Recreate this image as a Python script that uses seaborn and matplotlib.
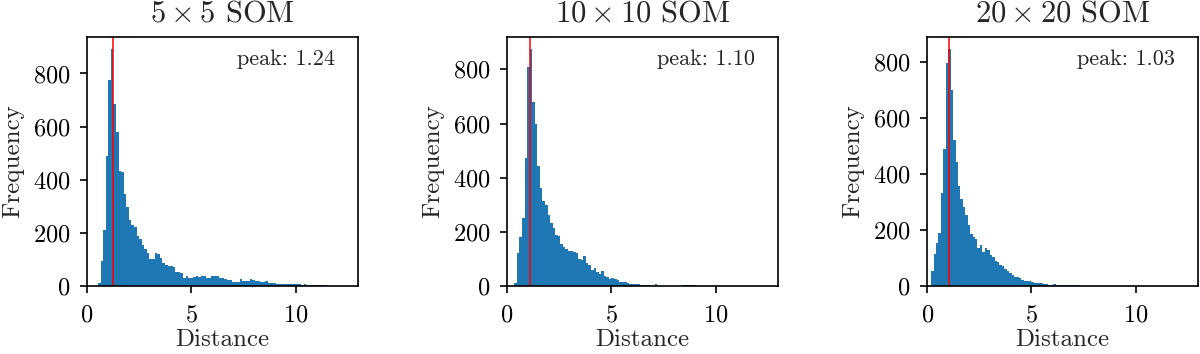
import numpy as np
import pandas as pd
import matplotlib
matplotlib.use("Agg")
import matplotlib.pyplot as plt
import seaborn as sns

# bin counts (100 bins each, zeros at the end trimmed)
titles = [r"$5\times5$ SOM", r"$10\times10$ SOM", r"$20\times20$ SOM"]
peaks = [1.24, 1.10, 1.03]
bin_start = [0.53, 0.35, 0.19]
bin_width = [0.1233, 0.1225, 0.117]

counts_5 = [12, 94, 212, 490, 775, 892, 684, 580, 433, 429,
            345, 296, 248, 229, 222, 190, 178, 154, 139, 124,
            101, 100, 126, 119, 104, 85, 80, 76, 74, 72,
            52, 51, 50, 30, 38, 32, 31, 33, 36, 34,
            38, 36, 31, 31, 38, 37, 36, 31, 30, 26,
            24, 22, 15, 14, 16, 28, 20, 19, 18, 26,
            24, 18, 18, 17, 16, 20, 11, 10, 10, 8,
            7, 8, 7, 7, 6, 7, 6, 6, 6, 5,
            6, 5, 5, 4, 5, 4, 3, 3, 3, 2,
            1, 1, 1, 0, 1]
counts_10 = [10, 121, 180, 252, 471, 810, 875, 680, 597, 443,
             363, 315, 300, 262, 234, 213, 189, 183, 157, 145,
             136, 130, 130, 127, 121, 99, 96, 112, 84, 78,
             60, 65, 53, 44, 57, 37, 32, 25, 28, 27,
             23, 16, 14, 14, 10, 8, 6, 6, 6, 5,
             4, 3, 3, 1, 1, 6, 1, 1, 1, 0,
             1, 1, 1, 0, 0, 1, 5, 4, 5, 3,
             4, 1]
counts_20 = [55, 114, 153, 191, 332, 491, 798, 848, 702, 523,
             445, 359, 311, 281, 254, 218, 185, 177, 168, 135,
             147, 123, 137, 128, 111, 105, 90, 87, 75, 71,
             62, 55, 48, 40, 34, 33, 30, 23, 19, 17,
             18, 13, 11, 12, 11, 10, 7, 6, 5, 5,
             6, 4, 3, 3, 5, 5, 4, 5, 2, 2,
             2, 1, 1, 1]
all_counts = [counts_5, counts_10, counts_20]

sns.set_style("ticks")
plt.rcParams["font.family"] = ["cmr10", "DejaVu Serif"]
plt.rcParams["mathtext.fontset"] = "cm"
plt.rcParams["axes.formatter.use_mathtext"] = True
plt.rcParams["axes.edgecolor"] = "black"
plt.rcParams["xtick.color"] = "black"
plt.rcParams["ytick.color"] = "black"
plt.rcParams["axes.linewidth"] = 1.2

fig, axes = plt.subplots(1, 3, figsize=(12, 3.54), dpi=100)
fig.subplots_adjust(left=0.0725, right=0.9986, bottom=0.192, top=0.895, wspace=0.549)

for ax, title, peak, start, w, counts in zip(axes, titles, peaks, bin_start, bin_width, all_counts):
    edges = [start + w * k for k in range(len(counts) + 1)]
    df = pd.DataFrame({
        "dist": [(edges[k] + edges[k + 1]) / 2 for k in range(len(counts))],
        "n": counts,
    })
    sns.histplot(data=df, x="dist", weights="n", bins=edges, ax=ax,
                 element="step", fill=True, color="#1f77b4", alpha=1, linewidth=0)
    ax.axvline(peak, color="red", lw=1.1)
    ax.set_xlim(0, 13)
    ax.set_xticks([0, 5, 10])
    ax.set_yticks([0, 200, 400, 600, 800])
    ax.set_title(title, fontsize=22, pad=11)
    ax.set_xlabel("Distance", fontsize=18, labelpad=2)
    ax.set_ylabel("Frequency", fontsize=18, labelpad=6)
    ax.tick_params(axis="x", labelsize=17.5, length=5, width=1.2, pad=8)
    ax.tick_params(axis="y", labelsize=17.5, length=5, width=1.2, pad=7)
    ax.text(0.915, 0.95, f"peak: {peak:.2f}", transform=ax.transAxes,
            ha="right", va="top", fontsize=16)

plt.savefig("out.png", dpi=100)
